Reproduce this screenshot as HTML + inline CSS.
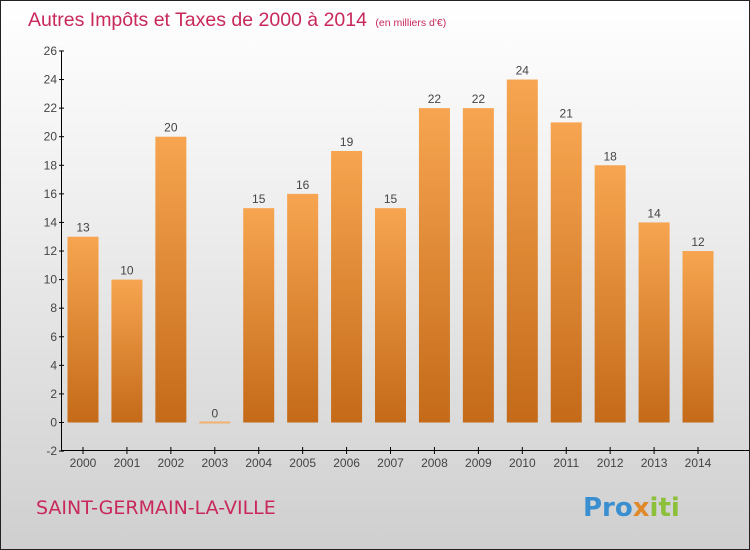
<!DOCTYPE html>
<html><head><meta charset="utf-8"><style>
body{margin:0}
#wrap{position:relative;width:748px;height:548px;border:1px solid #222;background:linear-gradient(#ffffff,#f2f2f2 30%,#cfcfcf);font-family:"Liberation Sans",sans-serif;overflow:hidden}
</style></head><body>
<div id="wrap">
<svg id="chart" width="748" height="548">
<defs><linearGradient id="bg" x1="0" y1="0" x2="0" y2="1"><stop offset="0" stop-color="#f7a550"/><stop offset="1" stop-color="#c46a18"/></linearGradient></defs>
<text x="27" y="25" font-size="19.5" fill="#c8285a">Autres Impôts et Taxes de 2000 à 2014 <tspan font-size="10.5" dx="3">(en milliers d'€)</tspan></text>
<text x="35" y="513" font-size="19" fill="#c8285a" font-family="DejaVu Sans, sans-serif">SAINT-GERMAIN-LA-VILLE</text>
<text x="582" y="515" font-size="26" font-weight="bold" font-family="DejaVu Sans, sans-serif"><tspan fill="#3a8fd0">Pro</tspan><tspan fill="#e0892a">x</tspan><tspan fill="#8cbf3a">iti</tspan></text>
<g id="g"></g>
</svg>
</div>
<script>
const years=["2000","2001","2002","2003","2004","2005","2006","2007","2008","2009","2010","2011","2012","2013","2014"];
const values=[13,10,20,0,15,16,19,15,22,22,24,21,18,14,12];
const yTicks=[-2,0,2,4,6,8,10,12,14,16,18,20,22,24,26];
const NS="http://www.w3.org/2000/svg";
const g=document.getElementById('g');
const y=v=>421.5-(v)*14.29;
const x=i=>82+i*43.93;
function el(t,a){const e=document.createElementNS(NS,t);for(const k in a)e.setAttribute(k,a[k]);g.appendChild(e);return e;}
let ax=el('line',{x1:60.5,y1:50,x2:60.5,y2:450,stroke:'#000'});


let bx=el('line',{x1:60,y1:449.5,x2:748,y2:449.5,stroke:'#000'});


yTicks.forEach(v=>{
 el('line',{x1:58,x2:63,y1:y(v),y2:y(v),stroke:'#000'});
 const t=el('text',{x:56,y:y(v)+4,'text-anchor':'end','font-size':12,fill:'#444'});t.textContent=v;
 
 
});
years.forEach((yr,i)=>{
 const v=values[i],cx=x(i);
 el('line',{x1:cx,x2:cx,y1:446,y2:453,stroke:'#000'});
 const t=el('text',{x:cx,y:466,'text-anchor':'middle','font-size':12,fill:'#444'});t.textContent=yr;
 
 
 const top=Math.min(y(v),y(0)),h=Math.max(Math.abs(y(0)-y(v)),2);
 const r=el('rect',{x:cx-15.5,y:v===0?y(0)-1:top,width:31,height:h,fill:v===0?'#f0b070':'url(#bg)'});
 
 
 const l=el('text',{x:cx,y:top-5,'text-anchor':'middle','font-size':12,fill:'#444'});l.textContent=v;
 
 
});
</script>
</body></html>
